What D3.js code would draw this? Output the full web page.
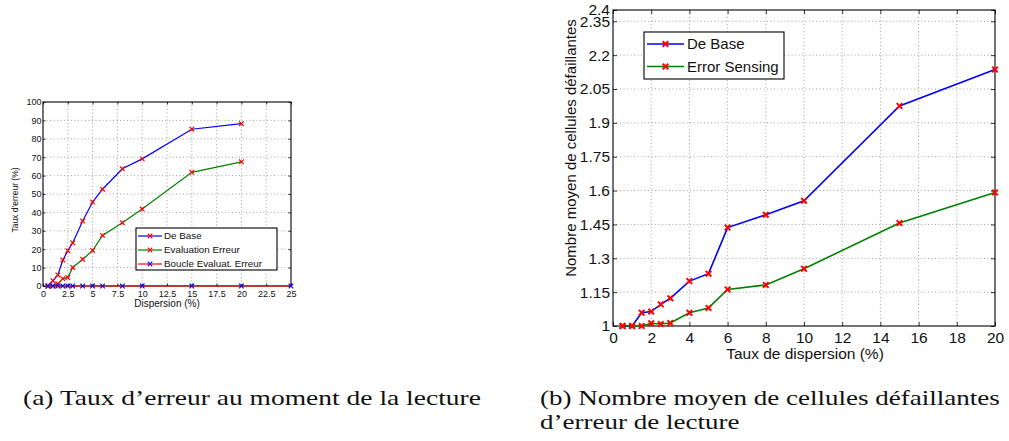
<!DOCTYPE html>
<html>
<head>
<meta charset="utf-8">
<script src="https://cdn.jsdelivr.net/npm/d3@7"></script>
<style>
  html, body { margin: 0; padding: 0; background: #fff; }
  svg { display: block; }
  .cap { font-family: "Liberation Serif", "DejaVu Serif", serif; fill: #111; }
</style>
</head>
<body>
<svg id="fig" width="1009" height="441"></svg>
<script>
// ---- Figure (a): taux d'erreur ----
const dispA = [0.5, 1, 1.5, 2, 2.5, 3, 4, 5, 6, 8, 10, 15, 20];
const dispBoucle = [0.5, 1, 1.5, 2, 2.5, 3, 4, 5, 6, 8, 10, 15, 20, 25];
const deBaseA = [0, 2.9, 6, 14.1, 19.2, 23.5, 35.3, 45.6, 52.6, 63.7, 69.1, 85.2, 88.2];
const evalErreurA = [0, 0, 1.2, 4, 4.6, 10.1, 14.5, 19.3, 27.5, 34.4, 41.8, 61.8, 67.5];
const boucleA = [0, 0, 0, 0, 0, 0, 0, 0, 0, 0, 0, 0, 0, 0];
const xTicksA = [0, 2.5, 5, 7.5, 10, 12.5, 15, 17.5, 20, 22.5, 25];
const yTicksA = [0, 10, 20, 30, 40, 50, 60, 70, 80, 90, 100];
const legendA = ["De Base", "Evaluation Erreur", "Boucle Evaluat. Erreur"];

// ---- Figure (b): nombre moyen de cellules défaillantes ----
const dispB = [0.5, 1, 1.5, 2, 2.5, 3, 4, 5, 6, 8, 10, 15, 20];
const deBaseB = [1, 1, 1.059, 1.064, 1.096, 1.123, 1.199, 1.232, 1.436, 1.493, 1.555, 1.975, 2.136];
const errSensB = [1, 1, 1, 1.012, 1.009, 1.013, 1.059, 1.080, 1.162, 1.182, 1.254, 1.456, 1.591];
const xTicksB = [0, 2, 4, 6, 8, 10, 12, 14, 16, 18, 20];
const yTicksB = [1, 1.15, 1.3, 1.45, 1.6, 1.75, 1.9, 2.05, 2.2, 2.35, 2.4];
const legendB = ["De Base", "Error Sensing"];

const captionA = "(a) Taux d\u2019erreur au moment de la lecture";
const captionB1 = "(b) Nombre moyen de cellules défaillantes";
const captionB2 = "d\u2019erreur de lecture";

const svg = d3.select("#fig");
const FONT = "Liberation Sans, Arial, Helvetica, sans-serif";

function cross(cx, cy, m) {
  return `M${cx - m},${cy - m}L${cx + m},${cy + m}M${cx - m},${cy + m}L${cx + m},${cy - m}`;
}

function panel(cfg) {
  const g = svg.append("g");
  const x = d3.scaleLinear().domain(cfg.xDomain).range([cfg.left, cfg.right]);
  const y = d3.scaleLinear().domain(cfg.yDomain).range([cfg.bottom, cfg.top]);
  const w = cfg.right - cfg.left, h = cfg.bottom - cfg.top;

  // dotted grid
  const grid = g.append("g").attr("stroke", "#8c8c8c").attr("stroke-width", 0.8)
    .attr("stroke-dasharray", "1,2.5");
  cfg.xTicks.forEach(t => {
    if (t === cfg.xDomain[0] || t === cfg.xDomain[1]) return;
    grid.append("line").attr("x1", x(t)).attr("x2", x(t)).attr("y1", cfg.top).attr("y2", cfg.bottom);
  });
  cfg.yTicks.forEach(t => {
    if (t === cfg.yDomain[0] || t === cfg.yDomain[1]) return;
    grid.append("line").attr("y1", y(t)).attr("y2", y(t)).attr("x1", cfg.left).attr("x2", cfg.right);
  });

  // axes with inward ticks on all four sides
  const tl = cfg.tickLen;
  const axB = g.append("g").attr("transform", `translate(0,${cfg.bottom})`)
    .call(d3.axisBottom(x).tickValues(cfg.xTicks).tickSize(-tl).tickPadding(cfg.padX).tickFormat(d3.format("")));
  const axT = g.append("g").attr("transform", `translate(0,${cfg.top})`)
    .call(d3.axisTop(x).tickValues(cfg.xTicks).tickSize(-tl).tickFormat(""));
  const axL = g.append("g").attr("transform", `translate(${cfg.left},0)`)
    .call(d3.axisLeft(y).tickValues(cfg.yTicks).tickSize(-tl).tickPadding(cfg.padY).tickFormat(d3.format("")));
  const axR = g.append("g").attr("transform", `translate(${cfg.right},0)`)
    .call(d3.axisRight(y).tickValues(cfg.yTicks).tickSize(-tl).tickFormat(""));
  [axB, axT, axL, axR].forEach(a => {
    a.select(".domain").remove();
    a.selectAll("line").attr("stroke", "#000").attr("stroke-width", 0.8);
    a.selectAll("text").attr("font-family", FONT).attr("font-size", cfg.tickFont).attr("fill", "#111");
  });
  g.append("rect").attr("x", cfg.left).attr("y", cfg.top).attr("width", w).attr("height", h)
    .attr("fill", "none").attr("stroke", "#000").attr("stroke-width", 1.1);

  // series
  cfg.series.forEach(s => {
    const pts = s.xs.map((d, i) => [d, s.ys[i]]);
    g.append("path").datum(pts)
      .attr("d", d3.line().x(d => x(d[0])).y(d => y(d[1])))
      .attr("fill", "none").attr("stroke", s.color).attr("stroke-width", cfg.lineW);
    g.append("g").selectAll("path").data(pts).join("path")
      .attr("d", d => cross(x(d[0]), y(d[1]), cfg.markR))
      .attr("stroke", s.marker).attr("stroke-width", cfg.markW).attr("fill", "none");
  });

  // axis titles
  g.append("text").attr("x", cfg.xTitlePos[0]).attr("y", cfg.xTitlePos[1])
    .attr("text-anchor", "middle").attr("font-family", FONT).attr("font-size", cfg.xTitleFont)
    .attr("fill", "#111").text(cfg.xTitle);
  g.append("text").attr("transform", `translate(${cfg.yTitlePos[0]},${cfg.yTitlePos[1]}) rotate(-90)`)
    .attr("text-anchor", "middle").attr("font-family", FONT).attr("font-size", cfg.yTitleFont)
    .attr("fill", "#111").text(cfg.yTitle);

  // legend
  const L = cfg.legend;
  g.append("rect").attr("x", L.x).attr("y", L.y).attr("width", L.w).attr("height", L.h)
    .attr("fill", "#fff").attr("stroke", "#000").attr("stroke-width", 1.1);
  cfg.series.forEach((s, i) => {
    const cy = L.y + L.first + i * L.step;
    g.append("line").attr("x1", L.x + L.lx0).attr("x2", L.x + L.lx1).attr("y1", cy).attr("y2", cy)
      .attr("stroke", s.color).attr("stroke-width", cfg.lineW);
    const mx = L.x + (L.lx0 + L.lx1) / 2;
    g.append("path").attr("d", cross(mx, cy, cfg.markR))
      .attr("stroke", s.marker).attr("stroke-width", cfg.markW);
    g.append("text").attr("x", L.x + L.tx).attr("y", cy).attr("dy", "0.35em")
      .attr("font-family", FONT).attr("font-size", L.font).attr("fill", "#111").text(s.name);
  });
  return { x, y };
}

panel({
  left: 43, right: 291, top: 102, bottom: 286,
  xDomain: [0, 25], yDomain: [0, 100],
  xTicks: xTicksA, yTicks: yTicksA,
  tickLen: 2.5, tickFont: 9, padX: 5, padY: 1.5,
  xTitleFont: 10, yTitleFont: 8.5, lineW: 1.2, markR: 2.3, markW: 1.2,
  xTitle: "Dispersion (%)", xTitlePos: [167, 307],
  yTitle: "Taux d\u2019erreur (%)", yTitlePos: [18, 200],
  series: [
    { name: legendA[0], xs: dispA, ys: deBaseA, color: "#0000ff", marker: "#ff0000" },
    { name: legendA[1], xs: dispA, ys: evalErreurA, color: "#008000", marker: "#ff0000" },
    { name: legendA[2], xs: dispBoucle, ys: boucleA, color: "#ff0000", marker: "#0000ff" }
  ],
  legend: { x: 136, y: 228, w: 141, h: 42, first: 8, step: 14, lx0: 2, lx1: 26, tx: 28, font: 9.8 }
});

panel({
  left: 613, right: 995, top: 10, bottom: 326,
  xDomain: [0, 20], yDomain: [1, 2.4],
  xTicks: xTicksB, yTicks: yTicksB,
  tickLen: 4, tickFont: 15.5, padX: 5.5, padY: 3,
  xTitleFont: 15.5, yTitleFont: 15, lineW: 1.6, markR: 2.8, markW: 2,
  xTitle: "Taux de dispersion (%)", xTitlePos: [805, 359],
  yTitle: "Nombre moyen de cellules défaillantes", yTitlePos: [576, 148],
  series: [
    { name: legendB[0], xs: dispB, ys: deBaseB, color: "#0000ff", marker: "#ff0000" },
    { name: legendB[1], xs: dispB, ys: errSensB, color: "#008000", marker: "#ff0000" }
  ],
  legend: { x: 644, y: 32, w: 140, h: 47, first: 12, step: 22.5, lx0: 3, lx1: 40, tx: 43, font: 15 }
});

// captions: the serif text is stretched horizontally so each first line fills its column
function caption(txt, x, y) {
  const g = svg.append("g").attr("transform", `translate(${x},${y})`);
  const t = g.append("text").attr("class", "cap").attr("x", 0).attr("y", 0)
    .attr("font-size", 20.5).text(txt);
  return { g, t };
}
const cA = caption(captionA, 23, 405);
const cB1 = caption(captionB1, 540, 405);
const cB2 = caption(captionB2, 540, 429);
const sA = 458 / cA.t.node().getComputedTextLength();
const sB = 460 / cB1.t.node().getComputedTextLength();
cA.g.attr("transform", `translate(23,405) scale(${sA},1)`);
cB1.g.attr("transform", `translate(540,405) scale(${sB},1)`);
cB2.g.attr("transform", `translate(540,429) scale(${sB},1)`);
</script>
</body>
</html>
